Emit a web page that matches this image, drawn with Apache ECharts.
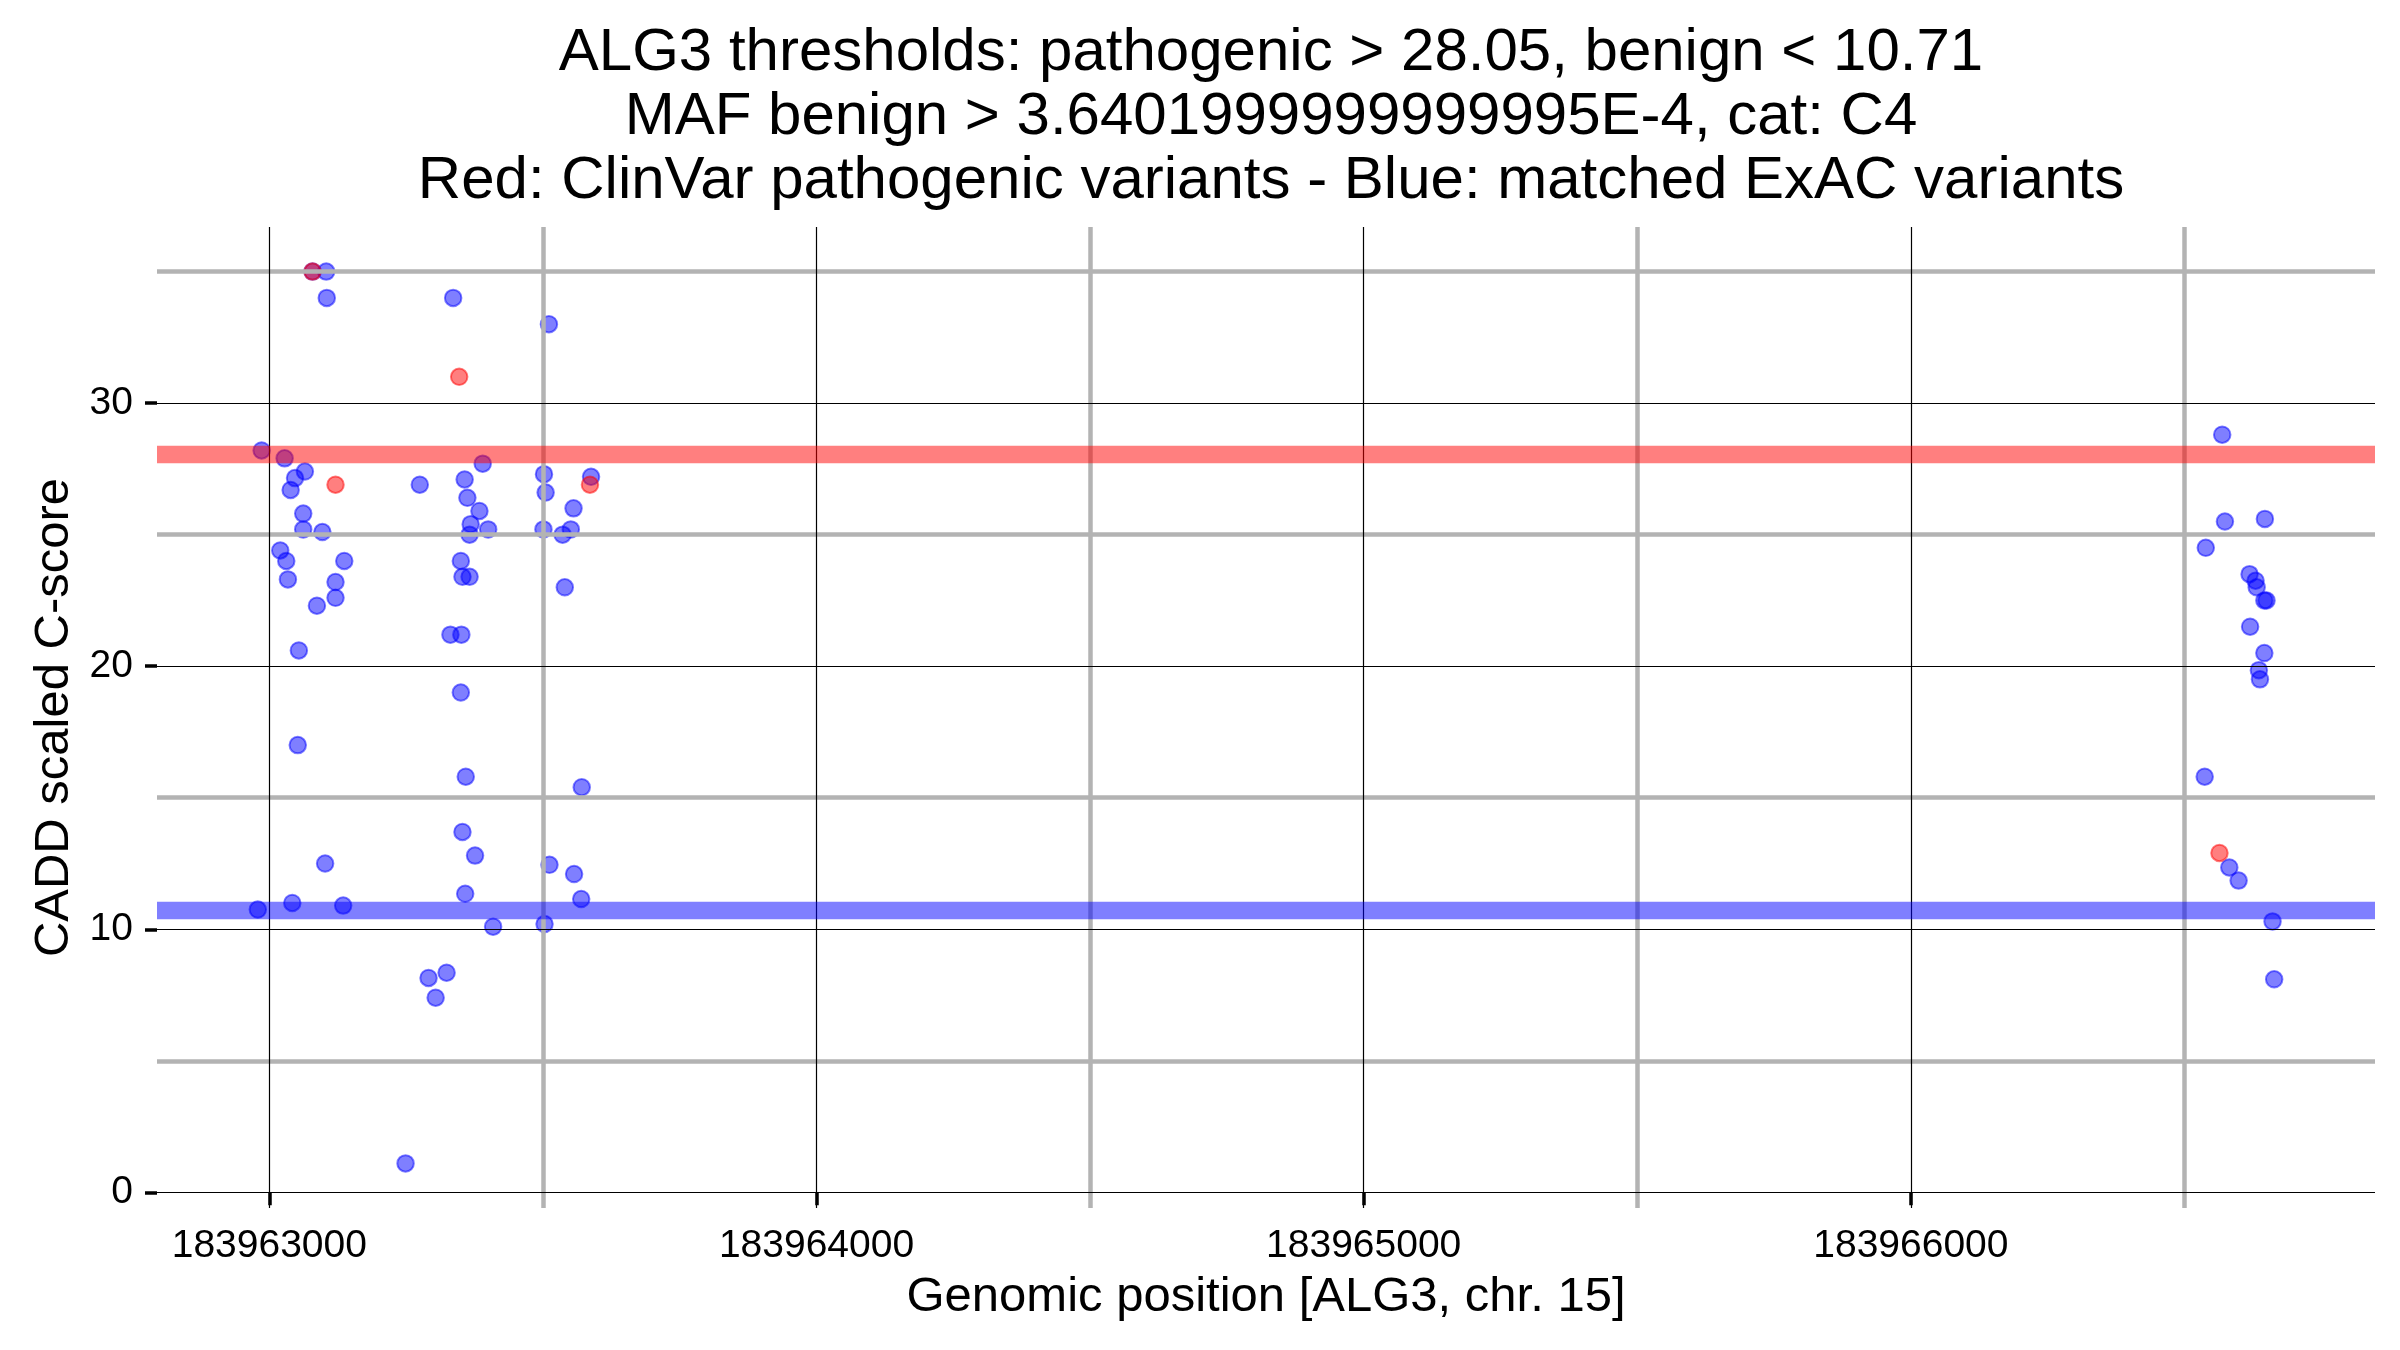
<!DOCTYPE html>
<html>
<head>
<meta charset="utf-8">
<script src="https://cdn.jsdelivr.net/npm/echarts@6/dist/echarts.min.js"></script>
<style>
html,body{margin:0;padding:0;background:#fff;}
#chart{width:2400px;height:1350px;}
</style>
</head>
<body>
<div id="chart"></div>
<script>
// ---------- data ----------
const titleLines = [
  'ALG3 thresholds: pathogenic > 28.05, benign < 10.71',
  'MAF benign > 3.6401999999999995E-4, cat: C4',
  'Red: ClinVar pathogenic variants - Blue: matched ExAC variants'
];
const xAxisTitle = 'Genomic position [ALG3, chr. 15]';
const yAxisTitle = 'CADD scaled C-score';

const xTickValues = [183963000, 183964000, 183965000, 183966000];
const xMinorGrid = [183963500, 183964500, 183965500, 183966500];
const yTickValues = [0, 10, 20, 30];
const yMinorGrid = [5, 15, 25, 35];

const pathogenicThreshold = 28.05;
const benignThreshold = 10.71;

// Blue: matched ExAC variants
const exacPos = [
  183963079,
  183963104, 183963105, 183963336, 183963511, 183962986, 183963028, 183963390, 183963065,
  183963047, 183963039, 183963275, 183963357, 183963502, 183963588, 183963505, 183963362,
  183963556, 183963384, 183963062, 183963368, 183963062, 183963097, 183963400, 183963366,
  183963501, 183963536, 183963551, 183963020, 183963031, 183963137, 183963350, 183963034,
  183963121, 183963353, 183963366, 183963540, 183963121, 183963087, 183963331, 183963351,
  183963054, 183963350, 183963052, 183963359, 183963571, 183963353, 183963376, 183963102,
  183963512, 183963557, 183963358, 183963570, 183963042, 183963135, 183962979, 183963409,
  183963503, 183963324, 183963291, 183963304, 183963249,
  183966569, 183966574, 183966647, 183966539, 183966619, 183966630, 183966632, 183966650,
  183966646, 183966620, 183966646, 183966636, 183966638, 183966537, 183966582, 183966599,
  183966661, 183966664
];
const exacScore = [
  35.0,
  35.0, 34.0, 34.0, 33.0, 28.2, 27.9, 27.7, 27.4,
  27.15, 26.7, 26.9, 27.1, 27.3, 27.2, 26.6, 26.4,
  26.0, 25.9, 25.8, 25.4, 25.2, 25.1, 25.2, 25.0,
  25.2, 25.0, 25.2, 24.4, 24.0, 24.0, 24.0, 23.3,
  23.2, 23.4, 23.4, 23.0, 22.6, 22.3, 21.2, 21.2,
  20.6, 19.0, 17.0, 15.8, 15.4, 13.7, 12.8, 12.5,
  12.45, 12.1, 11.35, 11.15, 11.0, 10.9, 10.75, 10.1,
  10.2, 8.35, 8.15, 7.4, 1.1,
  28.8, 25.5, 25.6, 24.5, 23.5, 23.25, 23.0, 22.5,
  22.5, 21.5, 20.5, 19.85, 19.5, 15.8, 12.35, 11.85,
  10.3, 8.1
];

// Red: ClinVar pathogenic variants
const clinvarPos = [183963079, 183963347, 183963121, 183963586, 183966564];
const clinvarScore = [35.0, 31.0, 26.9, 26.9, 12.9];

// ---------- helpers ----------
function zip(a, b) { return a.map((v, i) => [v, b[i]]); }
function expanded(vals) {
  const lo = Math.min.apply(null, vals), hi = Math.max.apply(null, vals);
  const pad = (hi - lo) * 0.05;
  return [lo - pad, hi + pad];
}
const xRange = expanded(exacPos.concat(clinvarPos));
const yRange = expanded(exacScore.concat(clinvarScore));

const FONT = "'Liberation Sans', Arial, Helvetica, sans-serif";
const minorStyle = { color: '#b3b3b3', width: 4.5, type: 'solid' };
const majorStyle = { color: '#000000', width: 1.2, type: 'solid' };

const gridLines = []
  .concat(xMinorGrid.map(v => ({ xAxis: v, lineStyle: minorStyle })))
  .concat(yMinorGrid.map(v => ({ yAxis: v, lineStyle: minorStyle })))
  .concat(xTickValues.map(v => ({ xAxis: v, lineStyle: majorStyle })))
  .concat(yTickValues.map(v => ({ yAxis: v, lineStyle: majorStyle })));

const chart = echarts.init(document.getElementById('chart'), null, { renderer: 'canvas' });

const pointStyle = (rgba) => ({
  color: rgba, borderColor: rgba, borderWidth: 2, opacity: 1
});

chart.setOption({
  animation: false,
  backgroundColor: '#ffffff',
  title: {
    text: titleLines.join('\n'),
    left: 1266,
    top: 16,
    textAlign: 'center',
    textStyle: {
      fontFamily: FONT, fontSize: 60, fontWeight: 'normal',
      color: '#000000', lineHeight: 64
    }
  },
  grid: { left: 157, right: 25, top: 227, bottom: 142, containLabel: false },
  xAxis: {
    type: 'value',
    min: xRange[0], max: xRange[1],
    name: xAxisTitle,
    nameLocation: 'middle',
    nameGap: 65,
    nameTextStyle: { fontFamily: FONT, fontSize: 49, color: '#000000' },
    axisLine: { show: false },
    axisTick: {
      show: true, length: 13, inside: false,
      customValues: xTickValues,
      lineStyle: { color: '#000000', width: 3.5 }
    },
    axisLabel: {
      show: true, margin: 19,
      customValues: xTickValues,
      fontFamily: FONT, fontSize: 39, color: '#000000',
      formatter: v => String(v)
    },
    splitLine: { show: false },
    minorSplitLine: { show: false }
  },
  yAxis: {
    type: 'value',
    min: yRange[0], max: yRange[1],
    name: yAxisTitle,
    nameLocation: 'middle',
    nameRotate: 90,
    nameGap: 78,
    nameTextStyle: { fontFamily: FONT, fontSize: 49, color: '#000000' },
    axisLine: { show: false },
    axisTick: {
      show: true, length: 12, inside: false,
      customValues: yTickValues,
      lineStyle: { color: '#000000', width: 3.5 }
    },
    axisLabel: {
      show: true, margin: 24,
      customValues: yTickValues,
      fontFamily: FONT, fontSize: 39, color: '#000000',
      formatter: v => String(v)
    },
    splitLine: { show: false },
    minorSplitLine: { show: false }
  },
  series: [
    {
      name: 'grid',
      type: 'scatter',
      data: [],
      silent: true,
      markLine: {
        silent: true,
        symbol: ['none', 'none'],
        label: { show: false },
        emphasis: { disabled: true },
        animation: false,
        data: gridLines
      }
    },
    {
      name: 'thresholds',
      type: 'scatter',
      data: [],
      silent: true,
      markLine: {
        silent: true,
        symbol: ['none', 'none'],
        label: { show: false },
        emphasis: { disabled: true },
        animation: false,
        data: [
          { yAxis: pathogenicThreshold, lineStyle: { color: 'rgba(255,0,0,0.5)', width: 17.3, type: 'solid' } },
          { yAxis: benignThreshold, lineStyle: { color: 'rgba(0,0,255,0.5)', width: 17.3, type: 'solid' } }
        ]
      }
    },
    {
      name: 'ExAC',
      type: 'scatter',
      data: zip(exacPos, exacScore),
      symbol: 'circle',
      symbolSize: 16.5,
      itemStyle: pointStyle('rgba(0,0,255,0.5)'),
      emphasis: { disabled: true },
      silent: true
    },
    {
      name: 'ClinVar',
      type: 'scatter',
      data: zip(clinvarPos, clinvarScore),
      symbol: 'circle',
      symbolSize: 16.5,
      itemStyle: pointStyle('rgba(255,0,0,0.5)'),
      emphasis: { disabled: true },
      silent: true
    }
  ]
});
</script>
</body>
</html>
